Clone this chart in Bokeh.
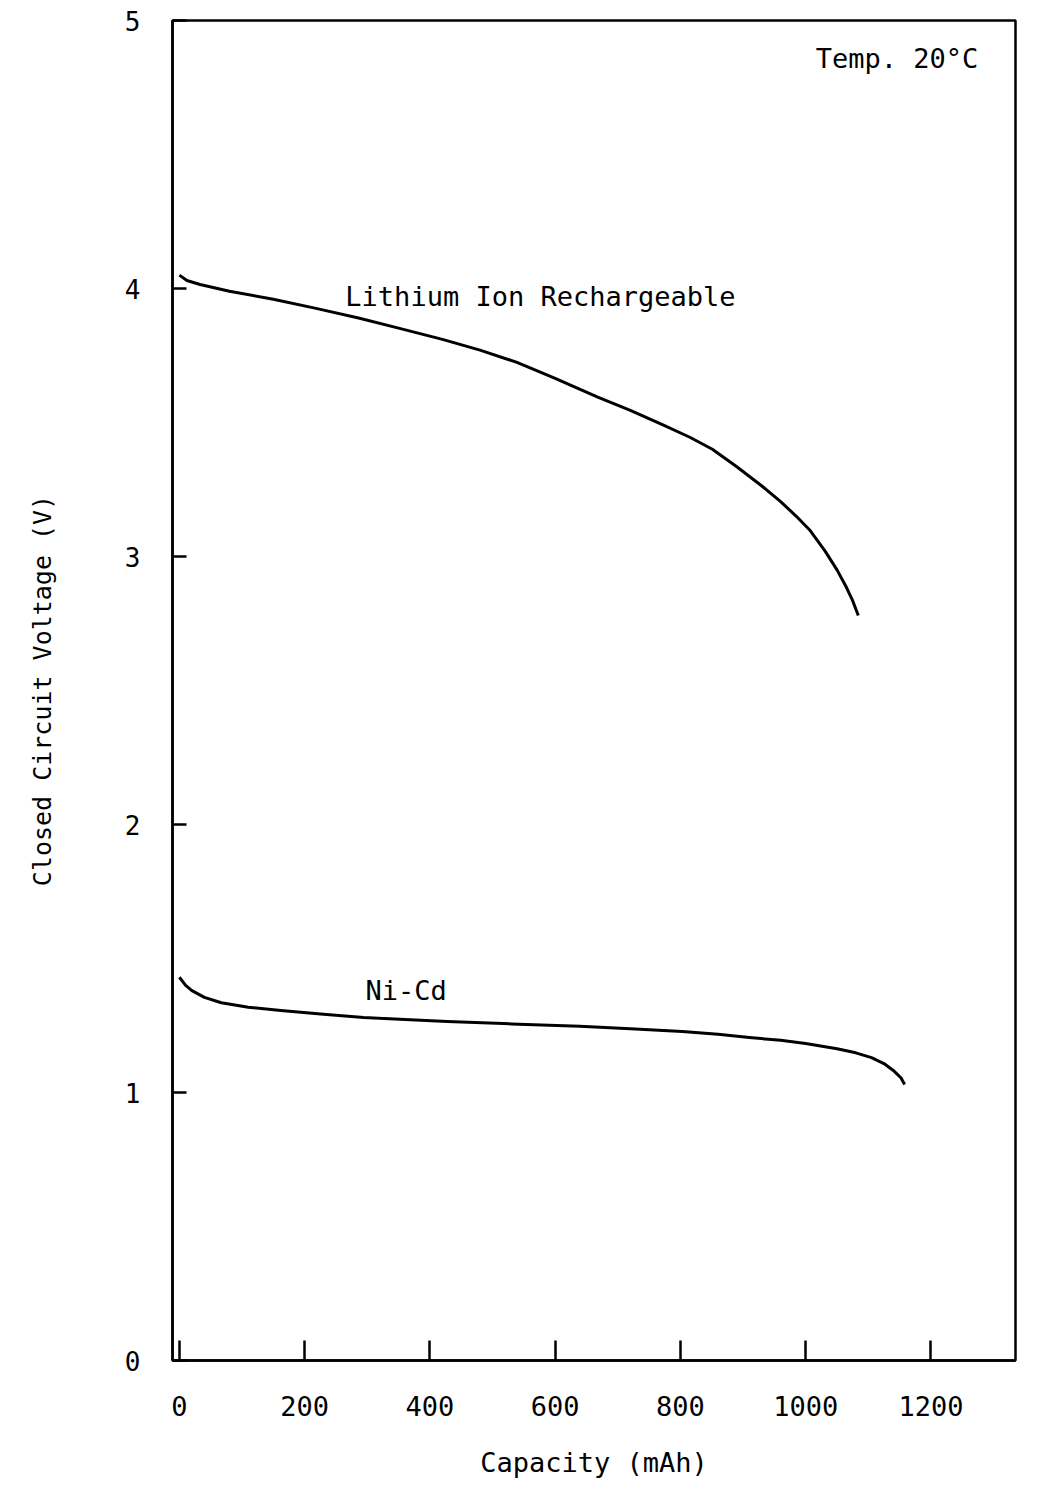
from bokeh.plotting import figure
from bokeh.models import Range1d, FixedTicker, Label
from bokeh.embed import file_html
from bokeh.resources import INLINE

# Data (capacity in mAh, voltage in V)
li_cap = [0, 12, 33, 80, 150, 220, 286, 350, 420, 480, 538, 600, 668, 720, 773, 815, 851, 890, 929, 960,
          985, 1006, 1031, 1050, 1065, 1075, 1084]
li_v = [4.05, 4.03, 4.015, 3.99, 3.96, 3.925, 3.89, 3.852, 3.81, 3.77, 3.725, 3.665, 3.595, 3.545, 3.49,
        3.445, 3.40, 3.335, 3.265, 3.205, 3.15, 3.10, 3.02, 2.95, 2.885, 2.835, 2.78]

nicd_cap = [0, 10, 20, 40, 67, 110, 162, 230, 294, 360, 428, 530, 639, 720, 803, 860, 910, 960, 1000,
            1050, 1080, 1105, 1125, 1141, 1152, 1158]
nicd_v = [1.43, 1.40, 1.38, 1.355, 1.335, 1.318, 1.306, 1.292, 1.280, 1.272, 1.265, 1.256, 1.247,
          1.238, 1.228, 1.217, 1.205, 1.195, 1.183, 1.163, 1.148, 1.130, 1.108, 1.080, 1.055, 1.03]

x_ticks = [0, 200, 400, 600, 800, 1000, 1200]
y_ticks = [0, 1, 2, 3, 4, 5]

FONT = "DejaVu Sans Mono"

p = figure(frame_width=843, frame_height=1340,
           min_border_left=172, min_border_right=39, min_border_top=20, min_border_bottom=140,
           x_range=Range1d(-11, 1335), y_range=Range1d(0, 5),
           output_backend="svg", toolbar_location=None,
           background_fill_color="white", border_fill_color="white")

p.grid.visible = False
p.outline_line_color = "black"
p.outline_line_width = 2.5

p.line(li_cap, li_v, line_color="black", line_width=3, line_join="round")
p.line(nicd_cap, nicd_v, line_color="black", line_width=3, line_join="round")

for ax in (p.xaxis[0], p.yaxis[0]):
    ax.axis_line_color = "black"
    ax.axis_line_width = 2.5
    ax.major_tick_line_color = "black"
    ax.major_tick_line_width = 2.5
    ax.major_tick_out = 0
    ax.minor_tick_line_color = None
    ax.major_label_text_font = FONT
    ax.major_label_text_color = "black"
    ax.axis_label_text_font = FONT
    ax.axis_label_text_font_style = "normal"
    ax.axis_label_text_color = "black"

p.xaxis.ticker = FixedTicker(ticks=x_ticks)
p.yaxis.ticker = FixedTicker(ticks=y_ticks)
p.xaxis.major_tick_in = 20
p.yaxis.major_tick_in = 14
p.xaxis.major_label_text_font_size = "27px"
p.yaxis.major_label_text_font_size = "26px"
p.xaxis.major_label_standoff = 35
p.yaxis.major_label_standoff = 32
p.xaxis.axis_label = "Capacity (mAh)"
p.xaxis.axis_label_text_font_size = "27px"
p.xaxis.axis_label_standoff = 28
p.yaxis.axis_label = "Closed Circuit Voltage (V)"
p.yaxis.axis_label_text_font_size = "25px"
p.yaxis.axis_label_standoff = 65

p.add_layout(Label(x=265, y=3.97, text="Lithium Ion Rechargeable", text_font=FONT,
                   text_font_size="27px", text_baseline="middle", text_align="left",
                   text_color="black"))
p.add_layout(Label(x=297, y=1.38, text="Ni-Cd", text_font=FONT,
                   text_font_size="27px", text_baseline="middle", text_align="left",
                   text_color="black"))
p.add_layout(Label(x=1016, y=4.86, text="Temp. 20°C", text_font=FONT,
                   text_font_size="27px", text_baseline="middle", text_align="left",
                   text_color="black"))

open("out.html", "w").write(file_html(p, INLINE))
